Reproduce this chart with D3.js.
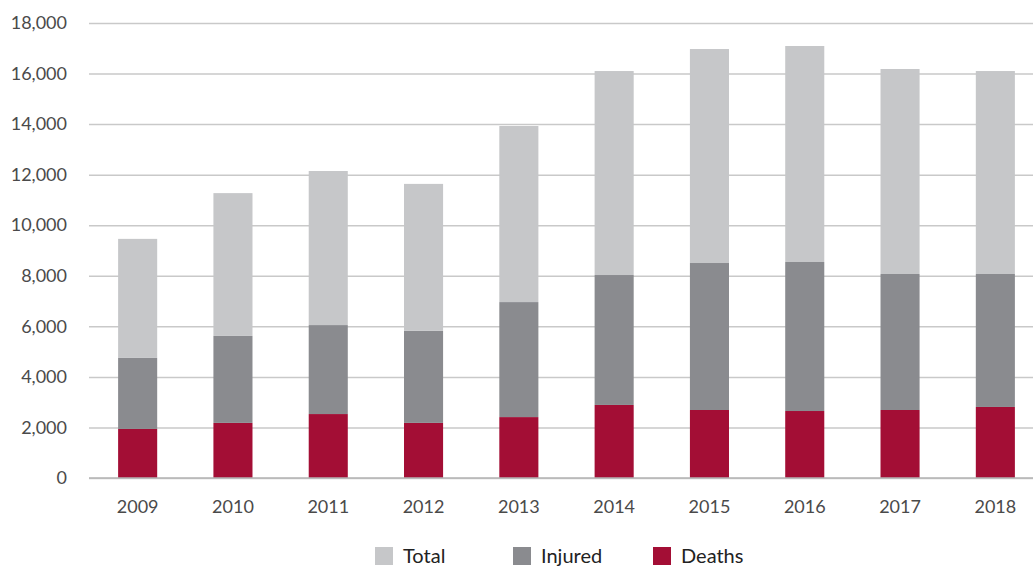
<!DOCTYPE html>
<html>
<head>
<meta charset="utf-8">
<script src="https://cdn.jsdelivr.net/npm/d3@7"></script>
<style>
  html, body { margin: 0; padding: 0; background: #fff; }
  svg { display: block; }
  text { font-family: Lato, "Source Sans Pro", "Noto Sans", sans-serif; }
</style>
</head>
<body>
<svg id="chart" width="1033" height="566"></svg>
<script>
const years = ["2009","2010","2011","2012","2013","2014","2015","2016","2017","2018"];
const deaths  = [1940, 2180, 2530, 2180, 2410, 2890, 2690, 2650, 2690, 2810];
const injured = [2810, 3440, 3520, 3640, 4550, 5140, 5815, 5895, 5380, 5260];
const total   = [4710, 5650, 6095, 5815, 6965, 8070, 8465, 8545, 8110, 8030];
const yTicks  = [0, 2000, 4000, 6000, 8000, 10000, 12000, 14000, 16000, 18000];
const seriesNames = ["Deaths", "Injured", "Total"];
const legendOrder = ["Total", "Injured", "Deaths"];
const colors = { Deaths: "#a30e35", Injured: "#8a8b8f", Total: "#c6c7c9" };

const svg = d3.select("#chart");
const x = d3.scaleBand().domain(years).range([90, 1043]).paddingInner(0.59).paddingOuter(0.295);
const y = d3.scaleLinear().domain([0, 18000]).range([478, 23]);

const rows = years.map((yr, i) => ({ year: yr, Deaths: deaths[i], Injured: injured[i], Total: total[i] }));
const stacked = d3.stack().keys(seriesNames)(rows);

// gridlines + y labels
const yAxis = d3.axisLeft(y).tickValues(yTicks).tickSize(-(1033 - 89)).tickFormat(d3.format(",")).tickPadding(22);
const gy = svg.append("g").attr("transform", "translate(89,0)").call(yAxis);
gy.select(".domain").remove();
gy.selectAll(".tick line").attr("stroke", "#c9c9c9").attr("stroke-width", 1.5);
gy.selectAll(".tick text").attr("font-size", 18).attr("fill", "#4a4a4a").attr("font-weight", 400);

// bars
svg.append("g").selectAll("g").data(stacked).join("g")
  .attr("fill", d => colors[d.key])
  .selectAll("rect").data(d => d).join("rect")
  .attr("x", d => x(d.data.year))
  .attr("width", x.bandwidth())
  .attr("y", d => y(d[1]))
  .attr("height", d => y(d[0]) - y(d[1]));

// baseline
svg.append("line").attr("x1", 89).attr("x2", 1033).attr("y1", y(0)).attr("y2", y(0))
  .attr("stroke", "#b5b5b5").attr("stroke-width", 1.5);

// x labels
const xAxis = d3.axisBottom(x).tickSize(0).tickPadding(22);
const gx = svg.append("g").attr("transform", `translate(0,${y(0)})`).call(xAxis);
gx.select(".domain").remove();
gx.selectAll(".tick text").attr("font-size", 18).attr("fill", "#4a4a4a").attr("font-weight", 400);

// legend
const legendX = [375, 513, 653];
const lg = svg.append("g").selectAll("g").data(legendOrder).join("g")
  .attr("transform", (d, i) => `translate(${legendX[i]},547)`);
lg.append("rect").attr("width", 18).attr("height", 18).attr("fill", d => colors[d]);
lg.append("text").attr("x", 28).attr("y", 16).attr("font-size", 20).attr("fill", "#222").text(d => d);
</script>
</body>
</html>
